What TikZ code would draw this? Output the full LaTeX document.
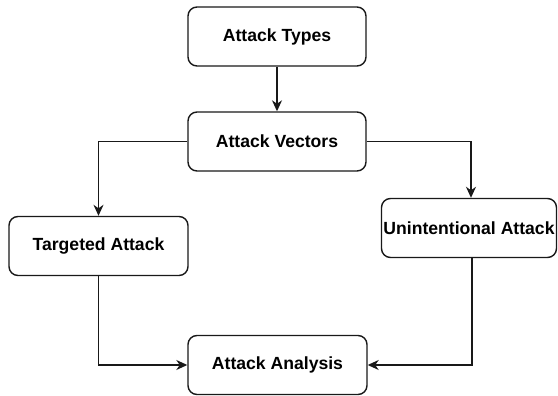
\documentclass[tikz,border=0pt]{standalone}
\usepackage{fontspec}
\setmainfont{Liberation Sans}
\usetikzlibrary{arrows.meta}
\begin{document}
\begin{tikzpicture}[x=1pt,y=-1pt,
  box/.style={draw=black!90,line width=1.4pt,rounded corners=9pt,fill=white,
    minimum height=59pt,inner sep=0pt,font=\fontsize{17.6}{20}\selectfont\bfseries},
  flow/.style={draw=black!90,line width=1.4pt,-{Stealth[length=11pt,width=10pt,inset=3.5pt]}}]
  \useasboundingbox (0,0) rectangle (558,396);
  \node[box,minimum width=178pt] (types) at (277,36.5) {Attack Types};
  \node[box,minimum width=178pt] (vectors) at (277,141.5) {Attack Vectors};
  \node[box,minimum width=179pt] (targeted) at (98.5,246) {Targeted Attack};
  \node[box,minimum width=175pt] (unint) at (469,228) {Unintentional Attack};
  \node[box,minimum width=179pt] (analysis) at (277.5,365) {Attack Analysis};
  \draw[flow] (types) -- (vectors);
  \draw[flow] (vectors.west) -| (targeted.north);
  \draw[flow] (vectors.east) -| ([xshift=2pt]unint.north);
  \draw[flow] (targeted.south) |- (analysis.west);
  \draw[flow] ([xshift=3pt]unint.south) |- (analysis.east);
\end{tikzpicture}
\end{document}
